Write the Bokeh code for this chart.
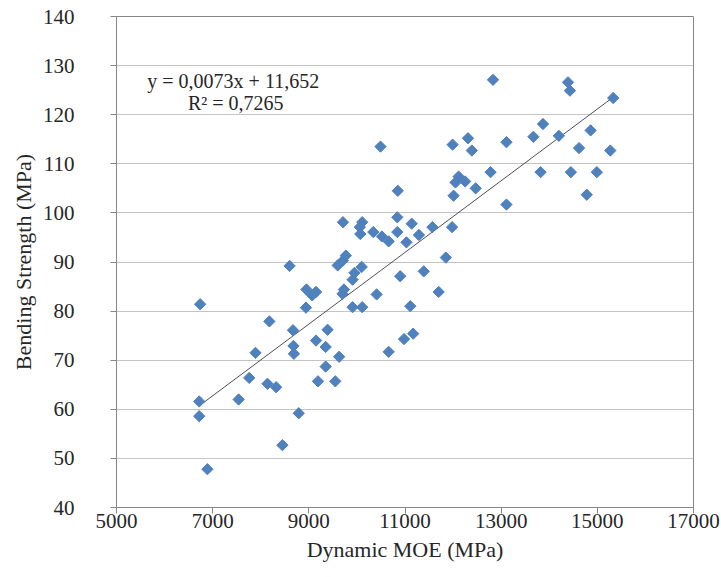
import numpy as np
from bokeh.plotting import figure
from bokeh.models import Range1d, FixedTicker, Label
from bokeh.embed import file_html
from bokeh.resources import INLINE

# Dynamic MOE (MPa)
moe = [6740, 6720, 6720, 6890, 7540, 7760, 7890, 8180, 8140, 8320, 8450, 8600,
       8670, 8680, 8690, 8790, 8940, 8950,
       9070, 9150, 9150, 9190, 9350, 9350, 9390, 9550, 9630, 9600, 9710, 9770,
       9700, 9730, 9710, 9910, 9910, 9950, 10100, 10110,
       10110, 10060, 10070, 10340, 10520, 10660, 10840, 10840, 10410, 10490,
       10850, 10660, 10900, 10980,
       11030, 11140, 11290, 11570, 11980, 11850, 11390, 11700, 11110, 11170,
       11990, 12010,
       12310, 12390, 12115, 12250, 12050, 12470, 12780, 12830, 13110, 13110,
       13670, 13870, 13820, 14200, 14390, 14430, 14450, 14620, 14780, 14860,
       14990, 15270, 15330]
# Bending strength (MPa)
strength = [81.4, 61.6, 58.6, 47.8, 62.0, 66.4, 71.5, 77.9, 65.2, 64.5, 52.7, 89.2,
            76.1, 72.9, 71.3, 59.2, 80.7, 84.4,
            83.2, 83.9, 74.0, 65.7, 72.7, 68.7, 76.2, 65.7, 70.7, 89.3, 90.3, 91.3,
            83.5, 84.4, 98.1, 80.8, 86.4, 87.8, 89.0, 80.8,
            98.1, 97.1, 95.7, 96.1, 95.2, 94.2, 99.1, 96.1, 83.4, 113.5,
            104.5, 71.7, 87.1, 74.3,
            94.0, 97.8, 95.5, 97.1, 97.1, 90.9, 88.1, 83.9, 81.0, 75.4,
            113.9, 103.5,
            115.2, 112.7, 107.4, 106.4, 106.2, 105.0, 108.3, 127.1, 114.4, 101.7,
            115.5, 118.1, 108.3, 115.7, 126.6, 124.9, 108.3, 113.2, 103.7, 116.8,
            108.3, 112.7, 123.4]

x_ticks = [5000, 7000, 9000, 11000, 13000, 15000, 17000]
y_ticks = [40, 50, 60, 70, 80, 90, 100, 110, 120, 130, 140]

slope = 0.0073
intercept = 11.652
equation_text = "y = 0,0073x  + 11,652"
r2_text = "R\u00b2 = 0,7265"

x_title = "Dynamic MOE (MPa)"
y_title = "Bending Strength (MPa)"

FONT = "'Liberation Serif', 'Times New Roman', serif"
TXT = "#262626"
AX = "#868686"

p = figure(width=720, height=575, output_backend="svg", toolbar_location=None,
           x_range=Range1d(5000, 17000), y_range=Range1d(40, 140),
           min_border_left=116, min_border_right=27, min_border_top=16,
           min_border_bottom=68)

p.background_fill_color = "white"
p.border_fill_color = "white"
p.outline_line_color = AX
p.outline_line_width = 1

p.xaxis.ticker = FixedTicker(ticks=x_ticks)
p.yaxis.ticker = FixedTicker(ticks=y_ticks)
p.xgrid.visible = False
p.ygrid.grid_line_color = "#c4c4c4"
p.ygrid.grid_line_width = 1

for ax in (p.xaxis, p.yaxis):
    ax.axis_line_color = AX
    ax.major_tick_line_color = AX
    ax.minor_tick_line_color = None
    ax.major_tick_in = 0
    ax.major_tick_out = 6
    ax.major_label_text_font = FONT
    ax.major_label_text_font_size = "21px"
    ax.major_label_text_color = TXT
    ax.axis_label_text_font = FONT
    ax.axis_label_text_font_size = "22px"
    ax.axis_label_text_font_style = "normal"
    ax.axis_label_text_color = TXT

p.xaxis.axis_label = x_title
p.yaxis.axis_label = y_title
p.xaxis.major_label_standoff = 0
p.xaxis.axis_label_standoff = 6
p.yaxis.major_label_standoff = 36
p.yaxis.axis_label_standoff = 4

xs = np.array(moe, dtype=float)
ys = np.array(strength, dtype=float)

# trend line over the data span
lx = np.array([xs.min(), xs.max()])
ly = slope * lx + intercept
p.line(lx, ly, line_color="#505050", line_width=1)

p.scatter(xs, ys, marker="square", size=8, angle=np.pi / 4,
          fill_color="#4F81BD", line_color="#4F81BD", line_width=1)

p.add_layout(Label(x=7480, y=126.9, text=equation_text, text_font=FONT,
                   text_font_size="20px", text_color=TXT, text_align="center",
                   text_baseline="middle"))
p.add_layout(Label(x=7480, y=122.3, text=r2_text, text_font=FONT,
                   text_font_size="20px", text_color=TXT, text_align="center",
                   text_baseline="middle"))

open("out.html", "w").write(file_html(p, INLINE))
